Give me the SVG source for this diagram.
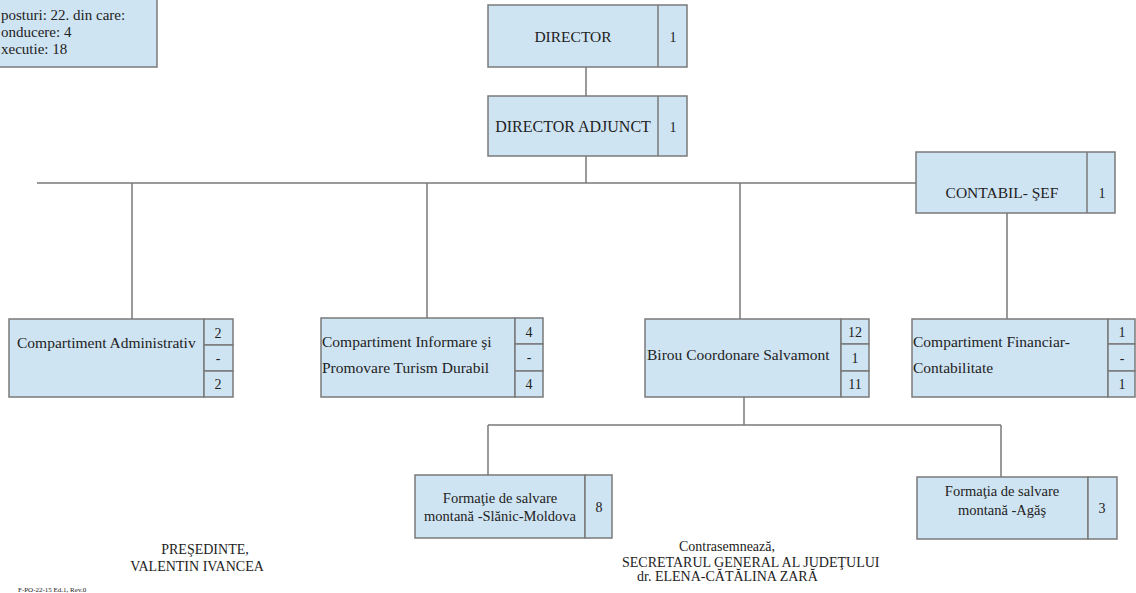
<svg xmlns="http://www.w3.org/2000/svg" width="1136" height="593" viewBox="0 0 1136 593" font-family="'Liberation Serif','Times New Roman',serif">
<style>
.box{fill:#cfe4f3;stroke:#7a7a7a;stroke-width:1.5}
.ln{fill:none;stroke:#7a7a7a;stroke-width:1.5}
text{font-family:"Liberation Serif","Times New Roman",serif;fill:#222;font-size:15.5px}
.c{text-anchor:middle}
.s{font-size:15px}
.n{font-size:14px}
.f{font-size:14.5px}
.g{font-size:14px}
</style>
<rect width="1136" height="593" fill="#fff"/>
<g id="connectors">
<path class="ln" d="M586 67V96M586 156V183M37 183H916M132 183V319M427 183V318M740 183V319M1007 213V319M744 397V425M488 425H1001M488 425V475M1001 425V477"/>
</g>
<g id="info">
<rect class="box" x="-2" y="-2" width="159" height="69"/>
<text class="s" x="1" y="20">posturi: 22. din care:</text>
<text class="s" x="1" y="37">onducere: 4</text>
<text class="s" x="1" y="54">xecutie: 18</text>
</g>
<g id="director">
<rect class="box" x="488" y="5" width="199" height="62"/>
<line class="ln" x1="658" y1="5" x2="658" y2="67"/>
<text class="c" x="573" y="42">DIRECTOR</text>
<text class="c n" x="673" y="42">1</text>
</g>
<g id="director-adjunct">
<rect class="box" x="488" y="96" width="199" height="60"/>
<line class="ln" x1="658" y1="96" x2="658" y2="156"/>
<text class="c" x="573" y="132" style="font-size:16px">DIRECTOR ADJUNCT</text>
<text class="c n" x="673" y="132">1</text>
</g>
<g id="contabil-sef">
<rect class="box" x="916" y="152" width="199" height="61"/>
<line class="ln" x1="1087" y1="152" x2="1087" y2="213"/>
<text class="c" x="1002" y="198">CONTABIL- ŞEF</text>
<text class="c n" x="1102" y="198">1</text>
</g>
<g id="comp-administrativ">
<rect class="box" x="9" y="319" width="195" height="78"/>
<rect class="box" x="204" y="319" width="29" height="26"/>
<rect class="box" x="204" y="345" width="29" height="26"/>
<rect class="box" x="204" y="371" width="29" height="26"/>
<text x="17" y="348">Compartiment Administrativ</text>
<text class="c n" x="218" y="338">2</text>
<text class="c n" x="218" y="363">-</text>
<text class="c n" x="218" y="389">2</text>
</g>
<g id="comp-informare">
<rect class="box" x="321" y="318" width="194" height="79"/>
<rect class="box" x="515" y="318" width="28" height="26"/>
<rect class="box" x="515" y="344" width="28" height="27"/>
<rect class="box" x="515" y="371" width="28" height="26"/>
<text x="322" y="347">Compartiment Informare şi</text>
<text x="322" y="373">Promovare Turism Durabil</text>
<text class="c n" x="529" y="337">4</text>
<text class="c n" x="529" y="362">-</text>
<text class="c n" x="529" y="389">4</text>
</g>
<g id="birou-salvamont">
<rect class="box" x="645" y="319" width="196" height="78"/>
<rect class="box" x="841" y="319" width="28" height="25"/>
<rect class="box" x="841" y="344" width="28" height="27"/>
<rect class="box" x="841" y="371" width="28" height="26"/>
<text x="647" y="360">Birou Coordonare Salvamont</text>
<text class="c n" x="855" y="337">12</text>
<text class="c n" x="855" y="363">1</text>
<text class="c n" x="855" y="389">11</text>
</g>
<g id="comp-financiar">
<rect class="box" x="912" y="319" width="196" height="78"/>
<rect class="box" x="1108" y="319" width="27" height="25"/>
<rect class="box" x="1108" y="344" width="27" height="27"/>
<rect class="box" x="1108" y="371" width="27" height="26"/>
<text x="913" y="347">Compartiment Financiar-</text>
<text x="913" y="373">Contabilitate</text>
<text class="c n" x="1122" y="337">1</text>
<text class="c n" x="1122" y="363">-</text>
<text class="c n" x="1122" y="389">1</text>
</g>
<g id="formatie-slanic">
<rect class="box" x="415" y="475" width="170" height="63"/>
<rect class="box" x="585" y="475" width="27" height="63"/>
<text class="c f" x="500" y="503">Formaţie de salvare</text>
<text class="c f" x="500" y="521">montană -Slănic-Moldova</text>
<text class="c n" x="599" y="512">8</text>
</g>
<g id="formatie-agas">
<rect class="box" x="917" y="477" width="171" height="62"/>
<rect class="box" x="1088" y="477" width="29" height="62"/>
<text class="c f" x="1002" y="496">Formaţia de salvare</text>
<text class="c f" x="1002" y="515">montană -Agăş</text>
<text class="c n" x="1102" y="513">3</text>
</g>
<g id="signatures">
<text class="c g" x="205" y="554">PREŞEDINTE,</text>
<text class="c g" x="197" y="571">VALENTIN IVANCEA</text>
<text class="c g" x="727" y="551">Contrasemnează,</text>
<text class="g" x="622" y="567">SECRETARUL GENERAL AL JUDEŢULUI</text>
<text class="g" x="637" y="581">dr. ELENA-CĂTĂLINA ZARĂ</text>
<text x="18" y="592" style="font-size:7px">F-PO-22-15 Ed.1, Rev.0</text>
</g>
</svg>
